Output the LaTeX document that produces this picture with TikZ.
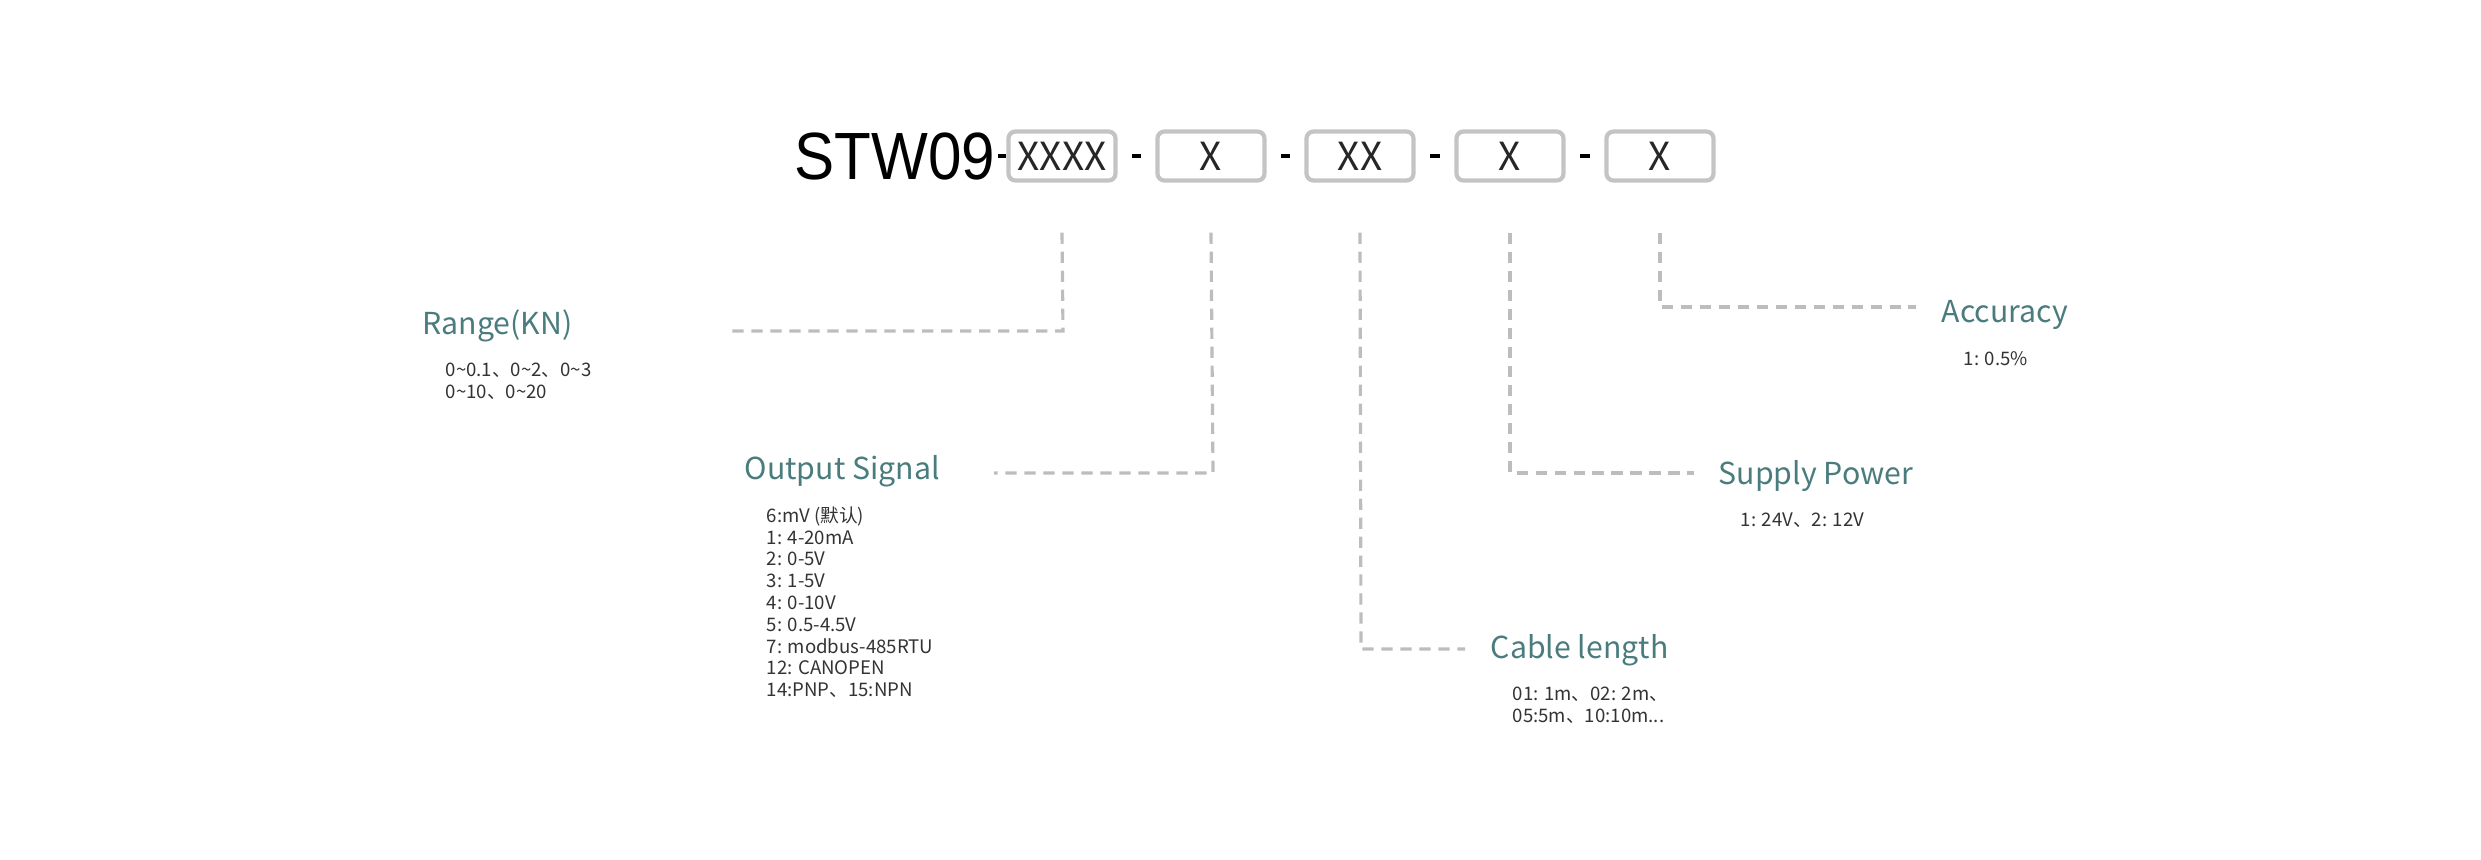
\documentclass[tikz,border=0pt]{standalone}
\usepackage{fontspec}
\setmainfont{Liberation Sans}
\newfontfamily\cjk{Noto Sans CJK SC}
\usetikzlibrary{positioning}
\definecolor{teal1}{HTML}{4A7C7E}
\definecolor{lgray}{HTML}{BDBDBD}
\definecolor{bgray}{HTML}{C4C4C4}

\begin{document}
\begin{tikzpicture}[x=0.01cm,y=-0.01cm]
\tikzset{codebox/.style={draw=bgray,line width=1.2pt,rounded corners=2pt,minimum width=1.07cm,minimum height=0.49cm,inner sep=0pt,font=\fontsize{11}{11}\selectfont\cjk\color{black!85}},
  lead/.style={lgray,line width=0.9pt,dash pattern=on 3.2pt off 2.2pt},
  title/.style={anchor=west,inner sep=0pt,text=teal1,font=\fontsize{8.6}{9}\selectfont\cjk},
  vals/.style={anchor=north west,inner sep=0pt,align=left,text=black!80,font=\fontsize{5.3}{6.2}\selectfont\cjk}}
\useasboundingbox (0,0) rectangle (2481,859);
% model code
\node[anchor=west,inner sep=0pt,font=\fontsize{19}{19}\selectfont,xscale=0.9] (stw) at (794,156) {STW09};
\node[codebox] (b1) at (1062,156) {XXXX};
\node[codebox] (b2) at (1211,156) {X};
\node[codebox] (b3) at (1360,156) {XX};
\node[codebox] (b4) at (1510,156) {X};
\node[codebox] (b5) at (1660,156) {X};
\draw[line width=1.4pt] (stw.east) ++(2,0) -- (b1.west);
\foreach \a/\b in {b1/b2,b2/b3,b3/b4,b4/b5}
  \draw[line width=1.4pt] ([xshift=4pt]\a.east) -- ([xshift=-4pt]\b.west);

% range
\coordinate (r1) at (1063,331);
\coordinate (r2) at (731,331);
\draw[lead] ([yshift=-0.5cm]b1.south) -- (r1) -- (r2);
\node[title] (range) at (422,326) {Range(KN)};
\node[vals] (rangev) at (445,362) {0\textasciitilde0.1、0\textasciitilde2、0\textasciitilde3\\0\textasciitilde10、0\textasciitilde20};

% output signal
\coordinate (o1) at (1213,473);
\coordinate (o2) at (994,473);
\draw[lead] ([yshift=-0.5cm]b2.south) -- (o1) -- (o2);
\node[title] (out) at (744,471) {Output Signal};
\node[vals] (outv) at (766,506) {6:mV (默认)\\1: 4-20mA\\2: 0-5V\\3: 1-5V\\4: 0-10V\\5: 0.5-4.5V\\7: modbus-485RTU\\12: CANOPEN\\14:PNP、15:NPN};

% cable
\coordinate (c1) at (1361,649);
\coordinate (c2) at (1465,649);
\draw[lead] ([yshift=-0.5cm]b3.south) -- (c1) -- (c2);
\node[title] (cable) at (1490,650) {Cable length};
\node[vals] (cablev) at (1512,686) {01: 1m、02: 2m、\\05:5m、10:10m...};

% supply
\coordinate (s1) at (1510,473);
\coordinate (s2) at (1694,473);
\draw[lead] ([yshift=-0.5cm]b4.south) -- (s1) -- (s2);
\node[title] (supply) at (1718,476) {Supply Power};
\node[vals] (supplyv) at (1740,512) {1: 24V、2: 12V};

% accuracy
\coordinate (a1) at (1660,307);
\coordinate (a2) at (1916,307);
\draw[lead] ([yshift=-0.5cm]b5.south) -- (a1) -- (a2);
\node[title] (acc) at (1941,315) {Accuracy};
\node[vals] (accv) at (1963,351) {1: 0.5\%};
\end{tikzpicture}
\end{document}
